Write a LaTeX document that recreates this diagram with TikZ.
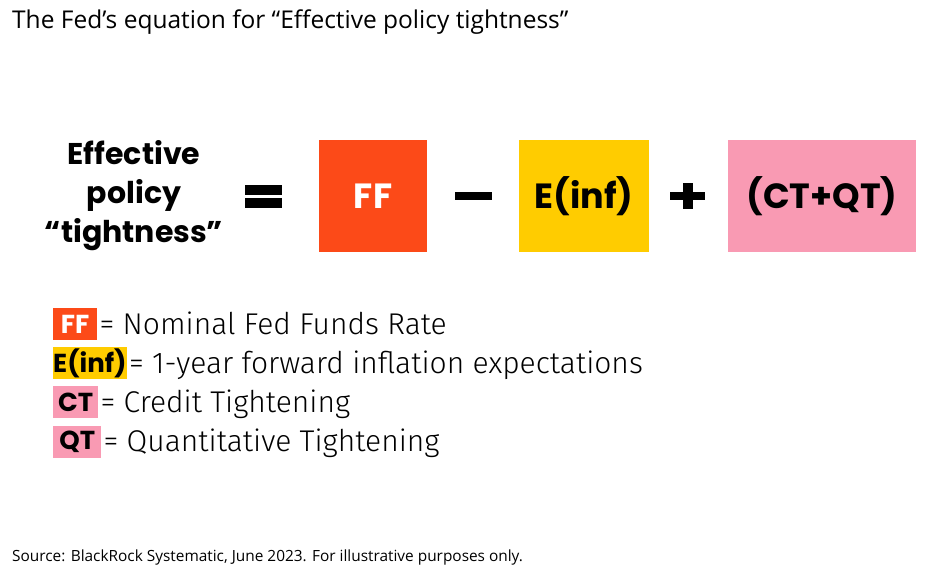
\documentclass[tikz,border=0pt]{standalone}
\usepackage{fontspec}
\setmainfont{Open Sans}
\newfontfamily\boldf{Poppins}[UprightFont=* SemiBold,BoldFont=* Bold]
\newfontfamily\legf{Fira Sans Light}
\definecolor{ffc}{HTML}{FC4A18}
\definecolor{einf}{HTML}{FFCC00}
\definecolor{ctqt}{HTML}{F99AB3}
\begin{document}
\begin{tikzpicture}[x=1pt,y=-1pt,
  bigbox/.style={inner sep=0pt, font=\boldf\bfseries\fontsize{35}{35}\selectfont},
  opsym/.style={fill=black},
  legbox/.style={inner sep=0pt, anchor=north west, font=\boldf\bfseries\fontsize{26}{26}\selectfont},
  legtxt/.style={anchor=base west, inner sep=0pt, xshift=2pt, font=\legf\fontsize{30}{30}\selectfont}]
\useasboundingbox[fill=white] (0,0) rectangle (928,578);
\node[anchor=base west, inner sep=0pt, font=\fontsize{24.5}{24.5}\selectfont] (title) at (12,29) {The Fed’s equation for “Effective policy tightness”};
\node[align=center, inner sep=0pt, font=\boldf\bfseries\fontsize{30}{39}\selectfont] (lhs) at (134,196) {Effective\\policy\\“tightness”};
% equals
\fill[opsym] (245,185) rectangle (282,195);
\fill[opsym] (245,198) rectangle (282,208);
\node[fill=ffc, minimum width=108pt, minimum height=112pt, bigbox, text=white] (ff) at (373,196) {FF};
% minus
\fill[opsym] (455,192) rectangle (492,200);
\node[fill=einf, minimum width=130pt, minimum height=112pt, bigbox] (ei) at (584,196) {E(inf)};
% plus
\fill[opsym] (670,192) rectangle (705,200);
\fill[opsym] (683,183) rectangle (693,209);
\node[fill=ctqt, minimum width=188pt, minimum height=112pt, bigbox] (ct) at (822,196) {(CT+QT)};
% legend
\node[fill=ffc, text=white, legbox, minimum width=44pt, minimum height=32pt] (lff) at (53,308) {FF};
\node[legtxt] (tff) at (lff.east |- 0,334) {= Nominal Fed Funds Rate};
\node[fill=einf, legbox, minimum width=73pt, minimum height=32pt] (lei) at (53,347) {E(inf)};
\node[legtxt] (tei) at (lei.east |- 0,373) {= 1-year forward inflation expectations};
\node[fill=ctqt, legbox, minimum width=45pt, minimum height=32pt] (lct) at (53,386) {CT};
\node[legtxt] (tct) at (lct.east |- 0,412) {= Credit Tightening};
\node[fill=ctqt, legbox, minimum width=48pt, minimum height=32pt] (lqt) at (53,426) {QT};
\node[legtxt] (tqt) at (lqt.east |- 0,451) {= Quantitative Tightening};
\node[anchor=base west, inner sep=0pt, font=\fontsize{15.4}{15.4}\selectfont] (src) at (12,561) {Source: BlackRock Systematic, June 2023. For illustrative purposes only.};
\end{tikzpicture}
\end{document}
